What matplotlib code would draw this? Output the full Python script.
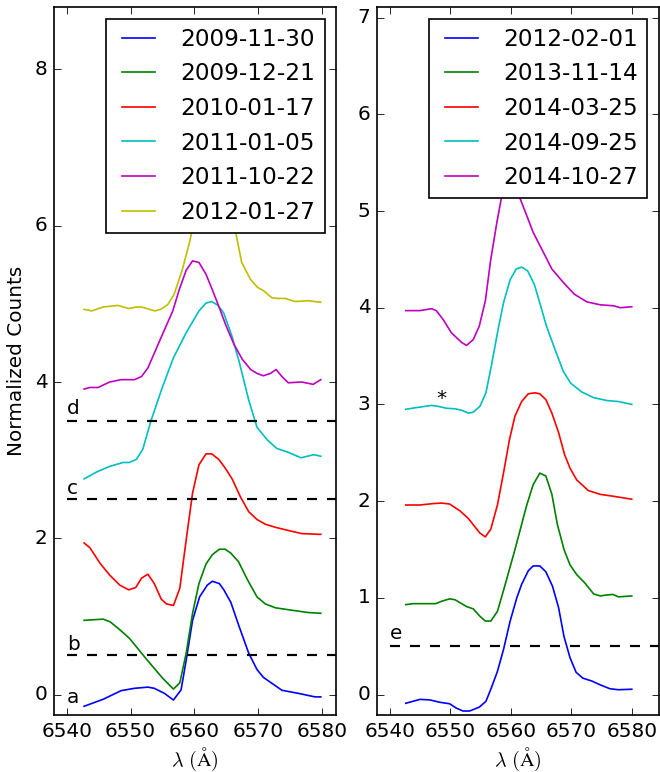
import numpy as np
import matplotlib
matplotlib.use("Agg")
import matplotlib.pyplot as plt

# --- left panel spectra (wavelength in Angstrom, normalized counts + offset) ---
wl_091130 = [6542.7, 6545.7, 6548.5, 6550.6, 6552.7, 6553.7, 6555.3, 6556.7, 6557.9, 6558.7,
             6559.7, 6560.8, 6562.0, 6562.8, 6563.9, 6564.6, 6565.7, 6567.0, 6568.5, 6569.8,
             6570.8, 6573.7, 6576.3, 6578.9, 6579.8]
fl_091130 = [-0.15, -0.06, 0.05, 0.08, 0.095, 0.08, 0.015, -0.07, 0.06, 0.44,
             0.95, 1.25, 1.40, 1.45, 1.42, 1.34, 1.18, 0.87, 0.53, 0.32,
             0.22, 0.055, 0.015, -0.03, -0.03]

wl_091221 = [6542.7, 6545.7, 6546.8, 6548.5, 6549.8, 6552.4, 6555.0, 6556.7, 6557.7, 6558.7,
             6559.7, 6560.7, 6561.8, 6562.8, 6563.9, 6564.8, 6565.7, 6566.9, 6568.3, 6569.8,
             6571.1, 6572.7, 6575.2, 6577.8, 6579.8]
fl_091221 = [0.95, 0.965, 0.93, 0.815, 0.72, 0.46, 0.21, 0.07, 0.15, 0.53,
             1.04, 1.42, 1.67, 1.79, 1.86, 1.86, 1.81, 1.70, 1.47, 1.25,
             1.16, 1.11, 1.08, 1.05, 1.04]

wl_100117 = [6542.7, 6543.6, 6545.2, 6546.7, 6548.3, 6549.7, 6550.8, 6551.7, 6552.7, 6553.7,
             6554.8, 6555.6, 6556.7, 6557.7, 6558.7, 6559.7, 6560.7, 6561.8, 6562.7, 6563.8,
             6564.8, 6565.9, 6567.2, 6568.5, 6569.8, 6571.1, 6572.7, 6574.7, 6576.8, 6579.8]
fl_100117 = [1.94, 1.88, 1.68, 1.53, 1.40, 1.34, 1.37, 1.49, 1.54, 1.42,
             1.22, 1.16, 1.14, 1.36, 1.98, 2.58, 2.94, 3.08, 3.08, 3.01,
             2.90, 2.76, 2.53, 2.34, 2.24, 2.18, 2.14, 2.10, 2.06, 2.05]

wl_110105 = [6542.7, 6544.7, 6546.7, 6548.8, 6549.8, 6550.9, 6551.9, 6553.2, 6555.0, 6556.7,
             6558.7, 6560.7, 6561.8, 6562.7, 6563.7, 6564.6, 6565.9, 6567.0, 6568.5, 6569.8,
             6571.4, 6572.9, 6574.7, 6576.7, 6578.7, 6579.8]
fl_110105 = [2.76, 2.85, 2.92, 2.97, 2.97, 3.01, 3.14, 3.51, 3.94, 4.31,
             4.63, 4.91, 5.01, 5.03, 4.98, 4.88, 4.58, 4.26, 3.77, 3.42,
             3.26, 3.15, 3.10, 3.03, 3.07, 3.05]

wl_111022 = [6542.7, 6543.6, 6544.9, 6546.7, 6548.5, 6550.6, 6551.7, 6552.7, 6554.5, 6556.6,
             6557.6, 6558.7, 6559.7, 6560.7, 6561.8, 6562.8, 6563.9, 6564.9, 6566.2, 6567.5,
             6568.8, 6569.8, 6570.8, 6571.9, 6572.8, 6573.7, 6574.7, 6576.8, 6578.6, 6579.8]
fl_111022 = [3.91, 3.93, 3.93, 4.00, 4.03, 4.03, 4.07, 4.18, 4.52, 4.91,
             5.18, 5.43, 5.55, 5.53, 5.38, 5.18, 4.95, 4.73, 4.48, 4.29,
             4.16, 4.11, 4.08, 4.11, 4.16, 4.07, 3.99, 4.00, 3.97, 4.03]

wl_120127 = [6542.7, 6543.9, 6545.7, 6548.0, 6549.7, 6550.9, 6551.7, 6553.8, 6554.7, 6555.8,
             6556.8, 6558.1, 6559.2, 6560.2, 6561.2, 6562.2, 6563.2, 6564.2, 6565.2, 6566.3,
             6567.4, 6568.8, 6569.9, 6570.8, 6572.1, 6572.9, 6574.2, 6575.8, 6577.8, 6579.8]
fl_120127 = [4.93, 4.91, 4.96, 4.98, 4.94, 4.96, 4.96, 4.91, 4.93, 4.99,
             5.12, 5.44, 5.78, 6.15, 6.50, 6.70, 6.70, 6.50, 6.25, 5.98,
             5.53, 5.31, 5.21, 5.17, 5.08, 5.07, 5.07, 5.03, 5.04, 5.02]

# --- right panel spectra ---
wl_120201 = [6542.65, 6545.0, 6546.6, 6548.3, 6549.9, 6551.0, 6552.1, 6553.2, 6554.8, 6555.9,
             6556.8, 6557.8, 6558.8, 6559.9, 6561.0, 6561.8, 6562.9, 6563.7, 6564.8, 6565.8,
             6566.9, 6567.9, 6568.8, 6569.8, 6570.8, 6571.9, 6573.4, 6574.8, 6576.4, 6577.8, 6580.0]
fl_120201 = [-0.09, -0.05, -0.055, -0.08, -0.095, -0.14, -0.17, -0.17, -0.13, -0.07,
             0.07, 0.24, 0.465, 0.76, 1.00, 1.14, 1.28, 1.33, 1.33, 1.27,
             1.12, 0.90, 0.60, 0.38, 0.23, 0.17, 0.14, 0.10, 0.06, 0.05, 0.055]

wl_131114 = [6542.65, 6543.9, 6546.1, 6547.6, 6548.6, 6549.9, 6550.8, 6552.7, 6553.8, 6554.9,
             6555.8, 6556.7, 6557.8, 6559.0, 6560.7, 6562.6, 6563.7, 6564.8, 6565.8, 6566.8,
             6567.7, 6568.8, 6569.8, 6570.9, 6572.3, 6573.7, 6574.8, 6575.9, 6576.9, 6577.8, 6580.0]
fl_131114 = [0.93, 0.94, 0.94, 0.94, 0.965, 0.99, 0.98, 0.91, 0.886, 0.81,
             0.76, 0.76, 0.86, 1.12, 1.50, 1.95, 2.17, 2.29, 2.26, 2.07,
             1.76, 1.50, 1.34, 1.24, 1.15, 1.04, 1.02, 1.03, 1.035, 1.01, 1.02]

wl_140325 = [6542.65, 6545.0, 6547.2, 6548.6, 6549.9, 6551.6, 6553.0, 6554.9, 6555.8, 6556.7,
             6557.8, 6558.8, 6559.8, 6560.7, 6561.8, 6562.9, 6564.0, 6564.8, 6565.8, 6566.8,
             6567.9, 6568.9, 6569.8, 6570.9, 6572.8, 6574.8, 6577.0, 6580.0]
fl_140325 = [1.96, 1.96, 1.975, 1.98, 1.97, 1.90, 1.82, 1.67, 1.63, 1.71,
             1.96, 2.29, 2.64, 2.88, 3.03, 3.11, 3.12, 3.11, 3.05, 2.91,
             2.71, 2.48, 2.34, 2.22, 2.11, 2.07, 2.05, 2.02]

wl_140925 = [6542.65, 6544.7, 6546.9, 6548.0, 6549.4, 6550.8, 6551.9, 6553.0, 6553.8, 6554.9,
             6555.9, 6556.8, 6557.8, 6558.8, 6559.9, 6560.9, 6561.8, 6562.8, 6563.9, 6564.8,
             6565.9, 6567.3, 6568.7, 6569.9, 6571.7, 6573.7, 6575.9, 6577.8, 6580.0]
fl_140925 = [2.95, 2.97, 2.99, 2.98, 2.96, 2.955, 2.94, 2.91, 2.92, 2.98,
             3.12, 3.40, 3.74, 4.05, 4.29, 4.40, 4.42, 4.38, 4.24, 4.05,
             3.81, 3.57, 3.34, 3.22, 3.13, 3.07, 3.04, 3.03, 3.00]

wl_141027 = [6542.65, 6545.0, 6546.9, 6547.7, 6548.8, 6550.2, 6551.9, 6552.7, 6553.8, 6554.8,
             6555.8, 6556.7, 6557.7, 6558.5, 6559.5, 6560.5, 6561.6, 6562.6, 6563.7, 6566.8,
             6568.7, 6570.5, 6572.6, 6574.8, 6577.0, 6578.1, 6580.0]
fl_141027 = [3.97, 3.97, 3.99, 3.97, 3.88, 3.74, 3.64, 3.61, 3.67, 3.81,
             4.07, 4.50, 4.88, 5.15, 5.30, 5.30, 5.12, 4.96, 4.78, 4.40,
             4.26, 4.14, 4.06, 4.03, 4.02, 4.00, 4.01]

left_dates = ["2009-11-30", "2009-12-21", "2010-01-17", "2011-01-05", "2011-10-22", "2012-01-27"]
right_dates = ["2012-02-01", "2013-11-14", "2014-03-25", "2014-09-25", "2014-10-27"]

left_levels = [0.5, 2.5, 3.5]
left_marks = [("a", -0.11), ("b", 0.57), ("c", 2.57), ("d", 3.59)]
right_levels = [0.5]
right_marks = [("e", 0.57)]

colors = ['b', 'g', 'r', 'c', 'm', 'y']

plt.style.use('classic')
plt.rcParams['figure.facecolor'] = 'white'
plt.rcParams['savefig.facecolor'] = 'white'
plt.rcParams['axes.formatter.useoffset'] = False

fig, (ax1, ax2) = plt.subplots(1, 2, figsize=(5.5, 772 / 120.), dpi=120)
fig.subplots_adjust(left=0.082, right=0.9985, bottom=0.074, top=0.991, wspace=0.145)

left_series = [(wl_091130, fl_091130), (wl_091221, fl_091221), (wl_100117, fl_100117),
               (wl_110105, fl_110105), (wl_111022, fl_111022), (wl_120127, fl_120127)]
right_series = [(wl_120201, fl_120201), (wl_131114, fl_131114), (wl_140325, fl_140325),
                (wl_140925, fl_140925), (wl_141027, fl_141027)]

for (wl, fl), lab, c in zip(left_series, left_dates, colors):
    ax1.plot(wl, fl, color=c, label=lab)
for (wl, fl), lab, c in zip(right_series, right_dates, colors):
    ax2.plot(wl, fl, color=c, label=lab)

for y in left_levels:
    ax1.plot([6540, 6600], [y, y], 'k--', lw=1.3)
for s, y in left_marks:
    ax1.text(6540, y, s)
for y in right_levels:
    ax2.plot([6540, 6600], [y, y], 'k--', lw=1.3)
for s, y in right_marks:
    ax2.text(6540, y, s)
ax2.text(6548.5, 3.0, '*', ha='center')

ax1.set_xlim(6538, 6582.2)
ax1.set_ylim(-0.26, 8.8)
ax1.set_xticks([6540, 6550, 6560, 6570, 6580])
ax1.set_yticks([0, 2, 4, 6, 8])
ax2.set_xlim(6537.9, 6584.5)
ax2.set_ylim(-0.21, 7.11)
ax2.set_xticks([6540, 6550, 6560, 6570, 6580])
ax2.set_yticks([0, 1, 2, 3, 4, 5, 6, 7])

ax1.set_ylabel('Normalized Counts')
for ax in (ax1, ax2):
    ax.set_xlabel(r'$\lambda\ (\mathrm{\AA})$', labelpad=3)
    ax.legend(loc='upper right', fontsize=13.9)

fig.savefig('out.png', dpi=120)
